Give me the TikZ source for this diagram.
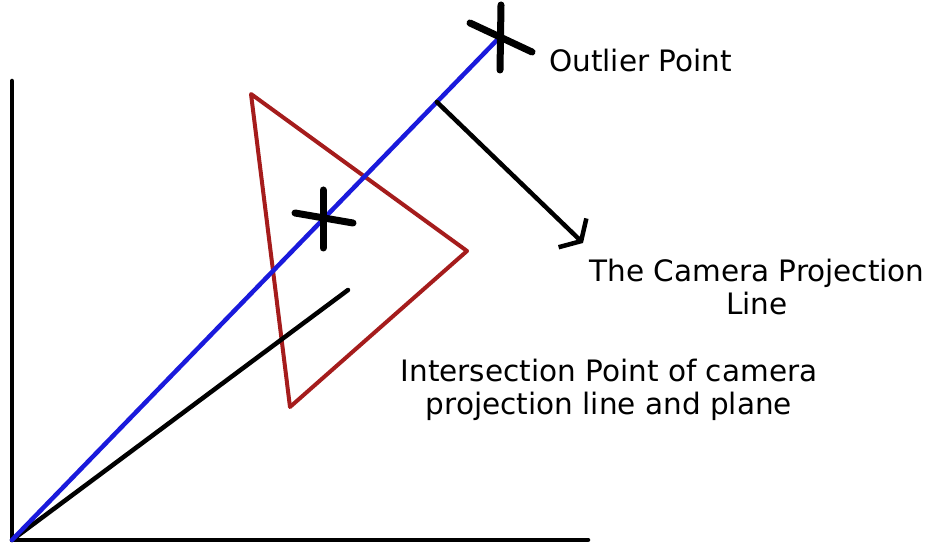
\documentclass[tikz,border=0pt]{standalone}
\usepackage{fontspec}
\setmainfont{DejaVu Sans}
\usepackage{tikz}
\usetikzlibrary{calc, arrows.meta}
\usepackage{tkz-euclide}

\definecolor{planered}{RGB}{165,28,28}
\definecolor{rayblue}{RGB}{26,26,220}
\tikzset{lbl/.style={font=\fontsize{29.5}{33}\selectfont, inner sep=0pt, align=center}}

\begin{document}
\begin{tikzpicture}[x=1pt, y=1pt]
            \useasboundingbox (0,0) rectangle (933,548);
            \tkzDefPoints{12/8/O, 12/467/Y, 588/8/X, 497/508/Q, 348/258/L}
            \tkzDefPoints{251/454/A, 467/297/B, 290/141/C, 583/305/E}
            \tkzDefPoints{501/543/Q_1, 500/478/Q_2, 470/525/Q_3, 532/496/Q_4}
            \tkzDefPoints{323/358/P_1, 323/300/P_2, 295/335/P_3, 353/325/P_4}
            \coordinate (M) at ($(O)!0.876!(Q)$);
            %\tkzDrawPoints(O,Q,M)
            \tkzDrawSegments[black, line width=4.5pt](O,Y O,X)
            \tkzDrawPolygon[planered, line width=4pt](A,B,C)
            \tkzDrawSegment[black, line width=4.5pt](O,L)
            \tkzDrawSegment[rayblue, line width=4.5pt](O,Q)
            \tkzDrawSegments[black, line width=7pt, line cap=round](Q_1,Q_2 Q_3,Q_4 P_1,P_2 P_3,P_4)
            \tkzDrawSegment[black, line width=4.5pt, -{Straight Barb[length=12pt,width=40pt]}](M,E)
            \node[lbl, anchor=base west] (outlier) at (549,476) {Outlier Point};
            \node[lbl, anchor=base] (projline) at (757,233) {The Camera Projection\\Line};
            \node[lbl, anchor=base] (interpt) at (609,133) {Intersection Point of camera\\projection line and plane};
        \end{tikzpicture}
\end{document}
